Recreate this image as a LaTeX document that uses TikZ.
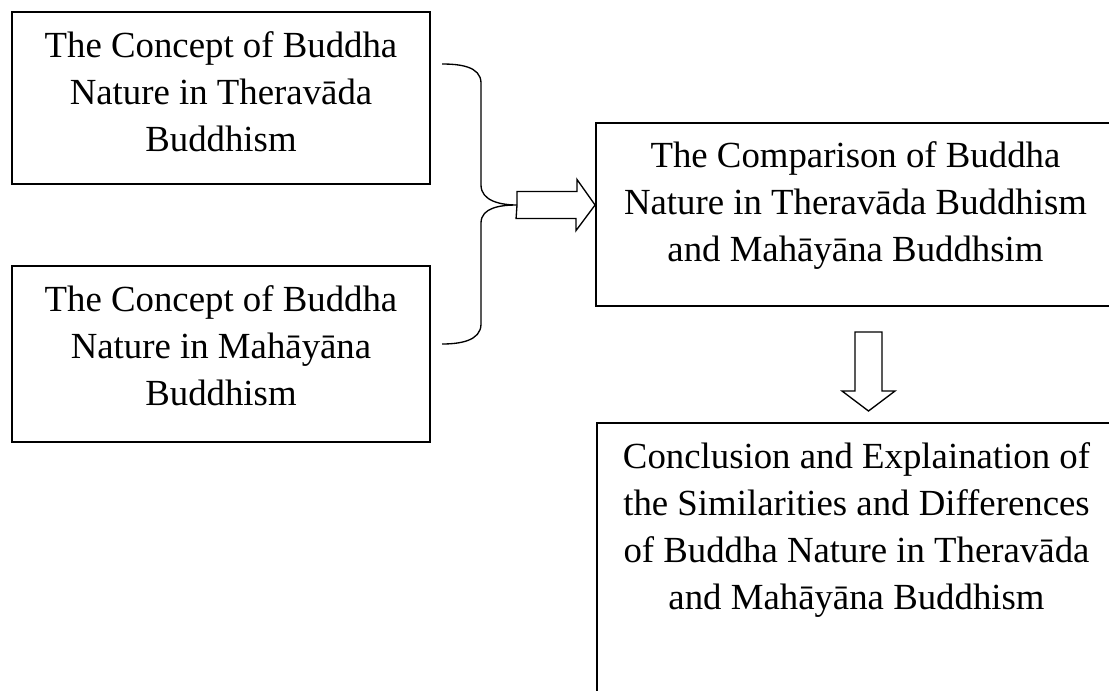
\documentclass[tikz,border=0pt]{standalone}
\usepackage{fontspec}
\setmainfont{Liberation Serif}
\usetikzlibrary{positioning}

\tikzset{
	frame/.style={draw, line width=1.4pt, inner sep=0pt},
	txt/.style={align=center, inner sep=0pt, font=\fontsize{27.6pt}{35.25pt}\selectfont},
	brace/.style={line width=1pt},
	hollow/.style={line width=1pt, line join=miter},
}

\begin{document}
\begin{tikzpicture}[x=0.75pt, y=0.75pt]
	\useasboundingbox (0,0) rectangle (1109,-690);
	\clip (0,0) rectangle (1109,-690);

	% boxes
	\node[frame, minimum width=313.5pt, minimum height=129pt] (thera) at (221,-98) {};
	\node[frame, minimum width=313.5pt, minimum height=132pt] (maha) at (221,-354) {};
	\node[frame, minimum width=389.25pt, minimum height=137.25pt] (comp) at (855.5,-214.5) {};
	\node[frame, minimum width=389.25pt, minimum height=240pt] (concl) at (856.5,-583) {};

	% texts
	\node[txt, below=15pt of thera.north] (theratxt) {The Concept of Buddha\\Nature in Theravāda\\Buddhism};
	\node[txt, below=15pt of maha.north] (mahatxt) {The Concept of Buddha\\Nature in Mahāyāna\\Buddhism};
	\node[txt, below=14.5pt of comp.north] (comptxt) {The Comparison of Buddha\\Nature in Theravāda Buddhism\\and Mahāyāna Buddhsim};
	\node[txt, below=15pt of concl.north] (concltxt) {Conclusion and Explaination of\\the Similarities and Differences\\of Buddha Nature in Theravāda\\and Mahāyāna Buddhism};

	% brace
	\coordinate (top) at (442,-64);
	\coordinate (bot) at (442,-344);
	\coordinate (tip) at (517,-205);
	\draw[brace] (top) to[out=0,in=90] ++(39,-19) -- ++(0,-102) to[out=-90,in=180] (tip)
		to[out=180,in=90] ++(-36,-18) -- ++(0,-101) to[out=-90,in=0] (bot);

	% block arrows
	\draw[hollow] (tip) -- ++(0,13.5) -- ++(60,0) -- ++(0,12) -- (comp.west |- tip)
		-- ++(-19,-25.5) -- ++(0,12) -- ++(-60,0) -- cycle;
	\coordinate (dtop) at (868.5,-332);
	\draw[hollow] (dtop) -- ++(-13.5,0) -- ++(0,-59) -- ++(-13,0) -- ++(26.5,-20)
		-- ++(26.5,20) -- ++(-13,0) -- ++(0,59) -- cycle;

\end{tikzpicture}
\end{document}
